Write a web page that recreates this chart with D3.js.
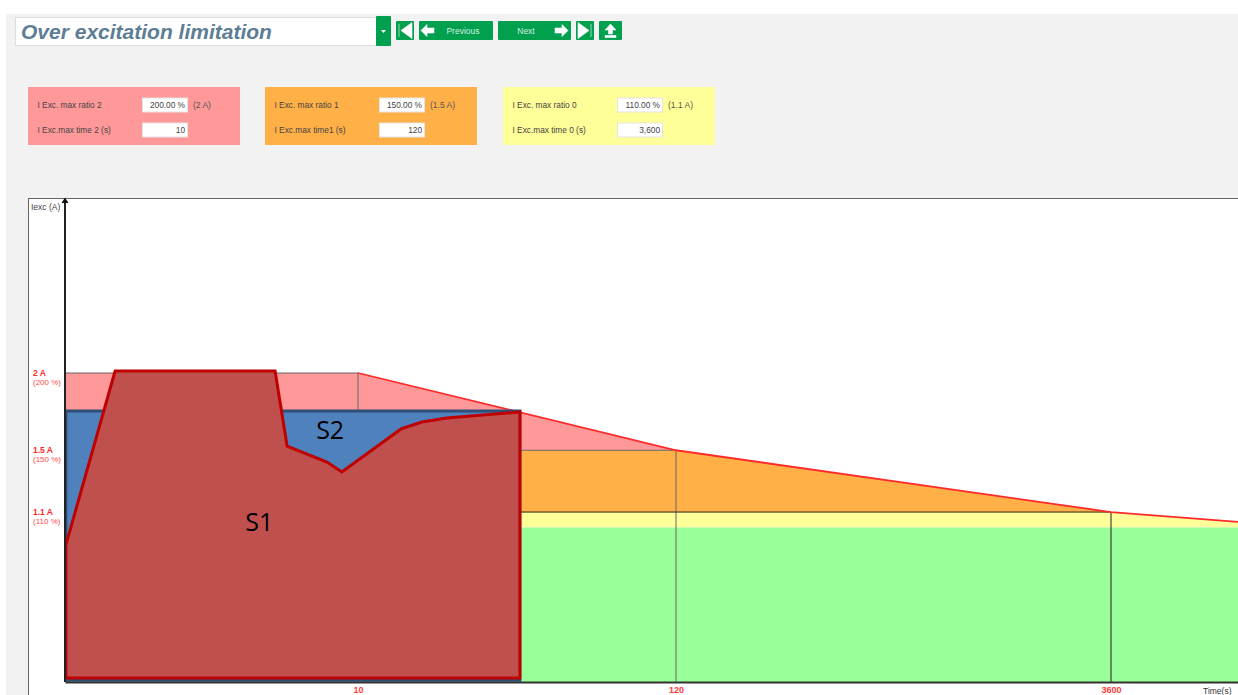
<!DOCTYPE html>
<html>
<head>
<meta charset="utf-8">
<script src="https://d3js.org/d3.v7.min.js"></script>
<style>
  html, body { margin: 0; padding: 0; background: #fff; overflow: hidden; }
  text { font-family: "Liberation Sans", Arial, sans-serif; }
</style>
</head>
<body>
<div id="chart"></div>
<script>
// thresholds of the over excitation limit
const limitAmps = [2, 1.5, 1.1];
const limitRatios = [200, 150, 110];
const limitTimes = [10, 120, 3600];
const nominalAmps = 1.0;
const endTime = 4616;
const endAmps = 1.036;

// measured curves, [time s, current A]
const s1Times = [0.03, 1.71, 7.17, 7.58, 8.94, 9.45, 24.9, 32.1, 40.7, 66, 66, 0.03];
const s1Amps = [0.887, 2.013, 2.013, 1.527, 1.424, 1.359, 1.638, 1.683, 1.709, 1.748, 0.026, 0.026];
const s2Times = [0.03, 66, 66, 0.03];
const s2Amps = [1.754, 1.754, 0.012, 0.012];

// form contents
const panelLabels = [
    ["I Exc. max ratio 2", "I Exc.max time 2 (s)"],
    ["I Exc. max ratio 1", "I Exc.max time1 (s)"],
    ["I Exc. max ratio 0", "I Exc.max time 0 (s)"]
];
const panelValues = [
    ["200.00 %", "10"],
    ["150.00 %", "120"],
    ["110.00 %", "3,600"]
];
const panelUnits = ["(2 A)", "(1.5 A)", "(1.1 A)"];
const panelColors = ["#ff9999", "#ffb047", "#ffff99"];
const title = "Over excitation limitation";

const width = 1238;
const height = 695;
const green = "#00a04f";

const svg = d3.select("#chart")
    .append("svg")
    .attr("width", width)
    .attr("height", height)
    .style("display", "block");

// grey page
svg.append("rect")
    .attr("x", 6).attr("y", 14)
    .attr("width", width).attr("height", height)
    .attr("fill", "#f2f2f2");

// title box and dropdown
svg.append("rect")
    .attr("x", 15.5).attr("y", 17.5)
    .attr("width", 361).attr("height", 28)
    .attr("fill", "#fff").attr("stroke", "#ddd");
svg.append("text")
    .attr("x", 21).attr("y", 39)
    .attr("font-size", 21).attr("font-weight", "bold").attr("font-style", "italic")
    .attr("fill", "#5d7d95")
    .text(title);
svg.append("rect")
    .attr("x", 376).attr("y", 16)
    .attr("width", 15).attr("height", 30).attr("rx", 1)
    .attr("fill", green);
svg.append("path").attr("d", "M381,30h5l-2.5,3z").attr("fill", "#fff");

// toolbar
const buttons = [
    {x: 396, w: 18, icon: "M399,24v13M401,30.5l11,-8v16z"},
    {x: 419, w: 74, icon: "M421,30.5l6,-6v3.5h7v5h-7v3.5z", label: "Previous", tx: 463},
    {x: 498, w: 73, icon: "M568,30.5l-6,-6v3.5h-7v5h7v3.5z", label: "Next", tx: 526},
    {x: 576, w: 18, icon: "M591,24v13M589,30.5l-11,-8v16z"},
    {x: 599, w: 23, icon: "M610.5,24l5.5,6h-3.5v4h-4v-4h-3.500zM605,35.500h11v2h-11z"}
];
const toolbar = svg.append("g").selectAll("g").data(buttons).join("g");
toolbar.append("rect")
    .attr("x", d => d.x).attr("y", 21)
    .attr("width", d => d.w).attr("height", 19).attr("rx", 1)
    .attr("fill", green);
toolbar.append("path")
    .attr("d", d => d.icon)
    .attr("fill", "#fff").attr("stroke", "#fff").attr("stroke-width", 0.6);
toolbar.filter(d => d.label).append("text")
    .attr("x", d => d.tx).attr("y", 34)
    .attr("text-anchor", "middle")
    .attr("font-size", 8.5).attr("fill", "#d5efe0")
    .text(d => d.label);

// the three limit panels
const panelX = d3.scaleOrdinal().domain([0, 1, 2]).range([28, 265, 503]);
const rowY = [105, 130];
panelColors.forEach((color, i) => {
    const g = svg.append("g").attr("transform", `translate(${panelX(i)},87)`);
    g.append("rect").attr("width", 212).attr("height", 58).attr("fill", color);
    rowY.forEach((y, r) => {
        const cy = y - 87;
        g.append("text")
            .attr("x", 9.5).attr("y", cy + 3)
            .attr("font-size", 8.3).attr("fill", "#444")
            .text(panelLabels[i][r]);
        g.append("rect")
            .attr("x", 114.5).attr("y", cy - 7)
            .attr("width", 45).attr("height", 14)
            .attr("fill", "#fff").attr("stroke", "#e3e3e3");
        g.append("text")
            .attr("x", 157).attr("y", cy + 3)
            .attr("text-anchor", "end")
            .attr("font-size", 8.3).attr("fill", "#444")
            .text(panelValues[i][r]);
    });
    g.append("text")
        .attr("x", 165).attr("y", 21)
        .attr("font-size", 8.5).attr("fill", "#555")
        .text(panelUnits[i]);
});

// chart box
svg.append("rect")
    .attr("x", 28.5).attr("y", 198.5)
    .attr("width", width).attr("height", height)
    .attr("fill", "#fff").attr("stroke", "#666");

// x is not to scale on the screen: each threshold gets its own stretch
const x = d3.scaleLinear()
    .domain([0, 10, 120, 3600, endTime])
    .range([65, 358, 676, 1111, 1238]);
const y = d3.scaleLinear()
    .domain([0, 2])
    .range([682, 373]);

const line = d3.line().x(d => x(d[0])).y(d => y(d[1]));
const zipped = (ts, as) => ts.map((t, i) => [t, as[i]]);

const zones = [
    {fill: panelColors[0], pts: [[0, limitAmps[0]], [limitTimes[0], limitAmps[0]], [limitTimes[1], limitAmps[1]], [0, limitAmps[1]]]},
    {fill: panelColors[1], pts: [[0, limitAmps[1]], [limitTimes[1], limitAmps[1]], [limitTimes[2], limitAmps[2]], [0, limitAmps[2]]]},
    {fill: panelColors[2], pts: [[0, limitAmps[2]], [limitTimes[2], limitAmps[2]], [endTime, endAmps], [endTime, nominalAmps], [0, nominalAmps]]},
    {fill: "#99ff99", pts: [[0, nominalAmps], [endTime, nominalAmps], [endTime, 0], [0, 0]]}
];
svg.append("g").selectAll("path").data(zones).join("path")
    .attr("d", d => line(d.pts) + "Z")
    .attr("fill", d => d.fill);

// thin guides at each threshold
const guides = svg.append("g").attr("fill", "none");
limitAmps.forEach((a, i) => {
    guides.append("path")
        .attr("d", line([[0, a], [limitTimes[i], a], [limitTimes[i], i === 0 ? limitAmps[1] : 0]]))
        .attr("stroke", i === 2 ? "#222" : "#666")
        .attr("stroke-width", 1);
});

// limit curve
svg.append("path")
    .attr("d", line([[limitTimes[0], limitAmps[0]], [limitTimes[1], limitAmps[1]], [limitTimes[2], limitAmps[2]], [endTime, endAmps]]))
    .attr("fill", "none")
    .attr("stroke", "#ff2a2a")
    .attr("stroke-width", 1.8);

// S2 then S1 on top
svg.append("path")
    .attr("d", line(zipped(s2Times, s2Amps)) + "Z")
    .attr("fill", "#4f81bd").attr("stroke", "#2f4f78").attr("stroke-width", 3);
svg.append("path")
    .attr("d", line(zipped(s1Times, s1Amps)) + "Z")
    .attr("fill", "#c0504d").attr("stroke", "#c00000").attr("stroke-width", 3)
    .attr("stroke-linejoin", "miter");

svg.append("text")
    .attr("x", x(6.63)).attr("y", y(0.98))
    .attr("text-anchor", "middle")
    .attr("font-size", 25).attr("fill", "#000")
    .style("font-family", "'Open Sans', sans-serif")
    .text("S1");
svg.append("text")
    .attr("x", x(9.05)).attr("y", y(1.57))
    .attr("text-anchor", "middle")
    .attr("font-size", 25).attr("fill", "#000")
    .style("font-family", "'Open Sans', sans-serif")
    .text("S2");

// axes
const xAxis = d3.axisBottom(x)
    .tickValues(limitTimes)
    .tickSize(0)
    .tickPadding(5)
    .tickFormat(d3.format("d"));
const xg = svg.append("g")
    .attr("transform", `translate(0,${y(0)})`)
    .call(xAxis);
xg.select(".domain").attr("stroke", "#333").attr("stroke-width", 2);
xg.selectAll("text")
    .attr("font-size", 9).attr("font-weight", "bold")
    .attr("fill", "#ff3b3b")
    .style("font-family", "'Liberation Sans', sans-serif");

const yAxis = d3.axisLeft(y)
    .tickValues(limitAmps)
    .tickSize(0)
    .tickFormat(d => d + " A");
const yg = svg.append("g")
    .attr("transform", `translate(${x(0)},0)`)
    .call(yAxis);
yg.select(".domain").remove();
yg.selectAll("text")
    .attr("x", -32).attr("dy", "0.32em")
    .attr("text-anchor", "start")
    .attr("font-size", 8.5).attr("font-weight", "bold")
    .attr("fill", "#ff2a2a")
    .style("font-family", "'Liberation Sans', sans-serif");
yg.selectAll(".tick").append("text")
    .attr("x", -32).attr("y", 11)
    .attr("text-anchor", "start")
    .attr("font-size", 8).attr("fill", "#ff4a4a")
    .style("font-family", "'Liberation Sans', sans-serif")
    .text((d, i) => `(${limitRatios[i]} %)`);

svg.append("path")
    .attr("d", `M${x(0)},${y(0)}V200`)
    .attr("stroke", "#222").attr("stroke-width", 2);
svg.append("path")
    .attr("d", `M${x(0)},197.500l3.500,5.500h-7z`)
    .attr("fill", "#111");

svg.append("text")
    .attr("x", 31).attr("y", 210)
    .attr("font-size", 8.5).attr("fill", "#444")
    .text("Iexc (A)");
svg.append("text")
    .attr("x", 1203).attr("y", 694)
    .attr("font-size", 8.5).attr("fill", "#333")
    .text("Time(s)");
</script>
</body>
</html>
